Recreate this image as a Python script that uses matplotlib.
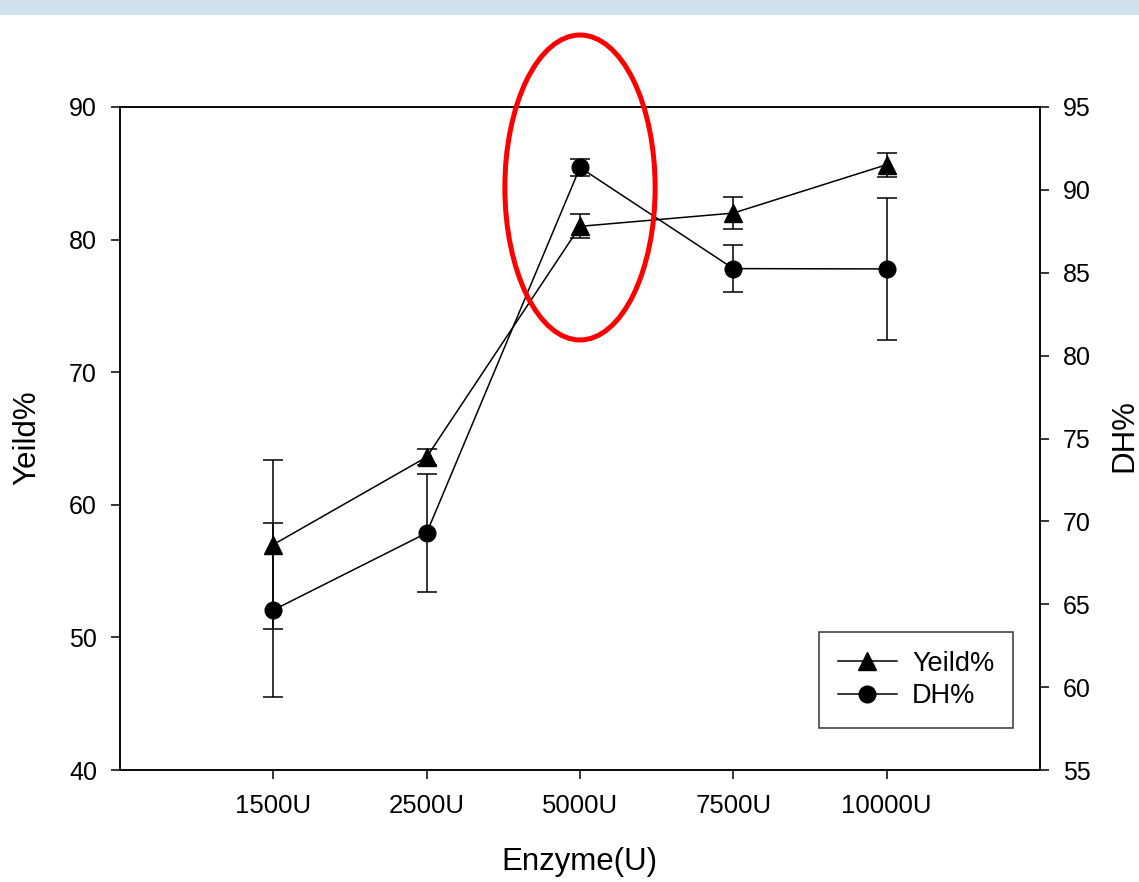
import matplotlib.pyplot as plt
from matplotlib.patches import Ellipse, Rectangle
import numpy as np

plt.rcParams['font.family'] = ['Liberation Sans', 'DejaVu Sans']

doses = ['1500U', '2500U', '5000U', '7500U', '10000U']
yield_vals = [57.0, 63.6, 81.0, 82.0, 85.65]
yield_err = [6.4, 0.6, 0.9, 1.2, 0.9]
dh_vals = [64.65, 69.3, 91.35, 85.25, 85.23]
dh_err = [5.25, 3.57, 0.5, 1.43, 4.3]

W, H = 1139, 882
fig = plt.figure(figsize=(W / 100, H / 100), dpi=100)
fig.patch.set_facecolor('white')

# light blue strip at top (screenshot background)
fig.patches.append(Rectangle((0, 1 - 15 / H), 1, 15 / H, transform=fig.transFigure,
                             facecolor='#cfe0ee', edgecolor='none', zorder=0))

ax = fig.add_axes([120 / W, (H - 770) / H, 920 / W, 663 / H])
ax2 = ax.twinx()

x = np.arange(1, len(doses) + 1)

ax.errorbar(x, yield_vals, yerr=yield_err, fmt='none', ecolor='black',
            elinewidth=1.1, capsize=7, capthick=1.1)
l1, = ax.plot(x, yield_vals, color='black', lw=1.1, marker='^', markersize=13,
              label='Yeild%')
ax2.errorbar(x, dh_vals, yerr=dh_err, fmt='none', ecolor='black',
             elinewidth=1.1, capsize=7, capthick=1.1)
l2, = ax2.plot(x, dh_vals, color='black', lw=1.1, marker='o', markersize=12,
               label='DH%')

ax.set_xlim(0, 6)
ax.set_ylim(40, 90)
ax2.set_ylim(55, 95)
ax.set_xticks(x)
ax.set_xticklabels(doses)
ax.set_yticks(np.arange(40, 91, 10))
ax2.set_yticks(np.arange(55, 96, 5))

for a in (ax, ax2):
    for s in a.spines.values():
        s.set_linewidth(1.1)
    a.tick_params(direction='out', length=6.5, width=1.1, labelsize=18, pad=10)
ax.tick_params(axis='x', labelsize=18.5, pad=11)

fig.text(27 / W, 1 - 438 / H, 'Yeild%', rotation=90, ha='center', va='center', fontsize=22.5)
fig.text(1124 / W, 1 - 436 / H, 'DH%', rotation=90, ha='center', va='center', fontsize=22.5)
fig.text(579 / W, 1 - 862 / H, 'Enzyme(U)', ha='center', va='center', fontsize=22.5)

leg = ax2.legend(handles=[l1, l2], loc='lower right', bbox_to_anchor=(0.9707, 0.0633),
                 fontsize=19.5, frameon=True, fancybox=False, edgecolor='black',
                 handlelength=2.2, handletextpad=0.55, labelspacing=0.25,
                 borderpad=0.69, borderaxespad=0)
leg.get_frame().set_linewidth(1.1)

ell = Ellipse((3.0, 83.93), 0.98, 23.0, transform=ax.transData, fill=False,
              edgecolor='red', linewidth=3.6, clip_on=False, zorder=10)
ax2.add_patch(ell)

fig.savefig('out.png', dpi=100)
